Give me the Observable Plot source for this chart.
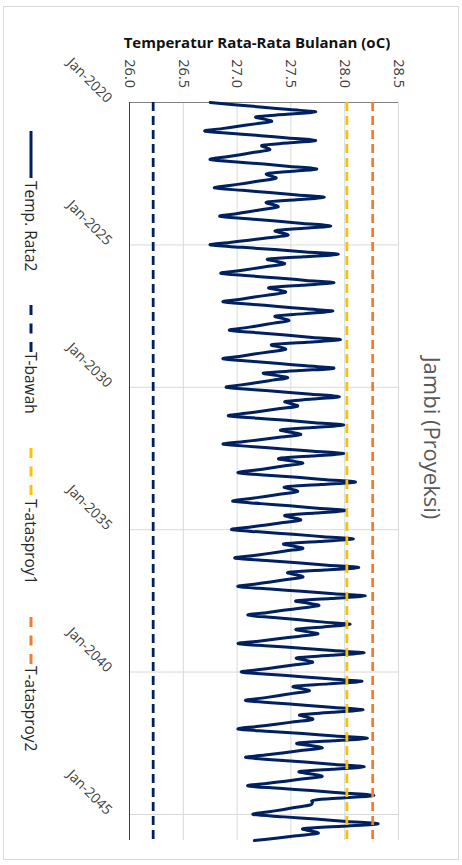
<!DOCTYPE html>
<html><head><meta charset="utf-8">
<script src="https://cdn.jsdelivr.net/npm/d3@7"></script>
<script src="https://cdn.jsdelivr.net/npm/@observablehq/plot@0.6"></script>
<style>
body{margin:0;background:#fff;font-family:"Open Sans",sans-serif;}
#wrap{position:relative;width:462px;height:865px;overflow:hidden;background:#fff;}
#frame{position:absolute;left:3px;top:6px;width:456px;height:854px;border:1px solid #d9d9d9;box-sizing:border-box;}
#chart{position:absolute;left:0;top:0;}
.rot{position:absolute;transform-origin:0 0;transform:rotate(90deg);white-space:nowrap;}
#axtitle{position:absolute;left:57px;top:32px;width:400px;text-align:center;font-weight:700;font-size:15px;line-height:20px;color:#111;}
</style></head><body>
<div id="wrap"><div id="frame"></div><div id="chart"></div></div>
<script>
// Monthly average temperature, Jan 2020 .. Dec 2045 (one row per year)
const tempRata2 = [
  26.75, 27.00, 27.24, 27.49, 27.73, 27.46, 27.18, 27.25, 27.32, 27.17, 27.01, 26.86, // 2020
  26.70, 26.96, 27.22, 27.47, 27.73, 27.49, 27.24, 27.27, 27.30, 27.16, 27.03, 26.89, // 2021
  26.75, 27.00, 27.25, 27.49, 27.74, 27.51, 27.28, 27.32, 27.36, 27.22, 27.08, 26.93, // 2022
  26.79, 27.05, 27.30, 27.56, 27.81, 27.55, 27.28, 27.33, 27.38, 27.25, 27.11, 26.98, // 2023
  26.84, 27.10, 27.36, 27.61, 27.87, 27.62, 27.36, 27.42, 27.47, 27.29, 27.11, 26.93, // 2024
  26.75, 27.05, 27.35, 27.64, 27.94, 27.62, 27.29, 27.37, 27.44, 27.29, 27.15, 27.00, // 2025
  26.85, 27.11, 27.38, 27.64, 27.90, 27.60, 27.30, 27.38, 27.45, 27.31, 27.16, 27.02, // 2026
  26.87, 27.13, 27.38, 27.64, 27.89, 27.63, 27.36, 27.42, 27.48, 27.34, 27.21, 27.07, // 2027
  26.93, 27.19, 27.45, 27.70, 27.96, 27.65, 27.33, 27.39, 27.45, 27.31, 27.16, 27.02, // 2028
  26.87, 27.13, 27.39, 27.64, 27.90, 27.58, 27.25, 27.36, 27.47, 27.33, 27.19, 27.04, // 2029
  26.90, 27.16, 27.43, 27.69, 27.95, 27.70, 27.45, 27.51, 27.56, 27.40, 27.24, 27.08, // 2030
  26.92, 27.19, 27.46, 27.72, 27.99, 27.70, 27.41, 27.50, 27.59, 27.41, 27.23, 27.05, // 2031
  26.87, 27.15, 27.43, 27.71, 27.99, 27.69, 27.39, 27.50, 27.61, 27.46, 27.31, 27.16, // 2032
  27.01, 27.28, 27.56, 27.83, 28.10, 27.78, 27.45, 27.51, 27.56, 27.41, 27.26, 27.11, // 2033
  26.96, 27.22, 27.49, 27.75, 28.01, 27.73, 27.45, 27.52, 27.59, 27.43, 27.27, 27.11, // 2034
  26.95, 27.23, 27.52, 27.80, 28.08, 27.76, 27.44, 27.53, 27.61, 27.45, 27.30, 27.14, // 2035
  26.98, 27.27, 27.56, 27.84, 28.13, 27.81, 27.48, 27.55, 27.61, 27.46, 27.31, 27.16, // 2036
  27.01, 27.31, 27.60, 27.90, 28.19, 27.87, 27.55, 27.66, 27.76, 27.60, 27.43, 27.27, // 2037
  27.10, 27.34, 27.58, 27.81, 28.05, 27.80, 27.55, 27.65, 27.75, 27.57, 27.38, 27.20, // 2038
  27.01, 27.30, 27.60, 27.89, 28.18, 27.87, 27.56, 27.63, 27.70, 27.54, 27.37, 27.21, // 2039
  27.04, 27.32, 27.60, 27.88, 28.16, 27.85, 27.53, 27.60, 27.67, 27.52, 27.38, 27.23, // 2040
  27.08, 27.35, 27.63, 27.90, 28.17, 27.88, 27.59, 27.65, 27.70, 27.53, 27.36, 27.18, // 2041
  27.01, 27.31, 27.61, 27.91, 28.21, 27.89, 27.56, 27.68, 27.79, 27.61, 27.44, 27.26, // 2042
  27.08, 27.36, 27.63, 27.91, 28.18, 27.88, 27.58, 27.69, 27.79, 27.62, 27.45, 27.27, // 2043
  27.10, 27.39, 27.69, 27.98, 28.27, 28.00, 27.72, 27.70, 27.68, 27.55, 27.42, 27.28, // 2044
  27.15, 27.44, 27.73, 28.02, 28.31, 27.97, 27.62, 27.69, 27.75, 27.55, 27.36, 27.16  // 2045
];
const startYear = 2020;
const tBawah = 26.22;
const tAtasproy1 = 28.02;
const tAtasproy2 = 28.26;
const xTicks = [26.0, 26.5, 27.0, 27.5, 28.0, 28.5];
const yearTicks = [2020, 2025, 2030, 2035, 2040, 2045];
const seriesNames = ["Temp. Rata2", "T-bawah", "T-atasproy1", "T-atasproy2"];
const seriesColors = ["#002060", "#002060", "#FFC000", "#ED7D31"];
const axisTitle = "Temperatur Rata-Rata Bulanan (oC)";
const chartTitle = "Jambi (Proyeksi)";

const series = tempRata2.map((v, i) => ({date: new Date(Date.UTC(startYear, i, 1)), temp: v}));
const tickDates = yearTicks.map(y => new Date(Date.UTC(y, 0, 1)));
const fmt = d3.utcFormat("%b-%Y");

const plot = Plot.plot({
  width: 462, height: 865,
  marginLeft: 129, marginRight: 64, marginTop: 102, marginBottom: 25,
  style: {fontFamily: '"Open Sans", sans-serif', background: "transparent", overflow: "visible"},
  x: {domain: [26, 28.5], axis: null},
  y: {type: "utc", domain: [series[0].date, series[series.length - 1].date], reverse: true, axis: null},
  marks: [
    Plot.gridX(xTicks.slice(1), {stroke: "#d9d9d9", strokeOpacity: 1, strokeWidth: 1}),
    Plot.gridY(tickDates.slice(1), {stroke: "#d9d9d9", strokeOpacity: 1, strokeWidth: 1}),
    Plot.ruleY([tickDates[0]], {stroke: "#808080", strokeWidth: 1}),
    Plot.ruleX([xTicks[0]], {stroke: "#404040", strokeWidth: 1}),
    Plot.line(series, {x: "temp", y: "date", curve: "cardinal", tension: 0, stroke: seriesColors[0], strokeWidth: 3}),
    Plot.ruleX([tBawah], {stroke: seriesColors[1], strokeWidth: 2.75, strokeDasharray: "9,5"}),
    Plot.ruleX([tAtasproy1], {stroke: seriesColors[2], strokeWidth: 2.75, strokeDasharray: "9,5"}),
    Plot.ruleX([tAtasproy2], {stroke: seriesColors[3], strokeWidth: 2.75, strokeDasharray: "9,5"}),
    Plot.text(xTicks, {x: d => d, text: d => d.toFixed(1), frameAnchor: "top", dy: -14.5, rotate: 90,
      textAnchor: "end", lineAnchor: "middle", fontSize: 14.5, fill: "#404040"}),
    Plot.text(tickDates, {y: d => d, text: d => fmt(d), frameAnchor: "left", dx: -20, dy: -2, rotate: 45,
      textAnchor: "end", lineAnchor: "middle", fontSize: 14, fill: "#404040"})
  ]
});
document.getElementById("chart").appendChild(plot);

const wrap = document.getElementById("wrap");
// axis title
const at = document.createElement("div");
at.id = "axtitle"; at.textContent = axisTitle; wrap.appendChild(at);

// chart title (rotated)
const ct = document.createElement("div");
ct.className = "rot";
Object.assign(ct.style, {left: (433 + 14) + "px", top: (438 - 150) + "px", width: "300px", textAlign: "center",
  lineHeight: "28px", fontSize: "22px", color: "#595959"});
ct.textContent = chartTitle; wrap.appendChild(ct);

// legend (rotated)
const swStart = [131, 305, 448, 617];
const txStart = [181, 352, 499, 666];
const legendX = 31;
seriesNames.forEach((name, i) => {
  const sw = document.createElementNS("http://www.w3.org/2000/svg", "svg");
  sw.setAttribute("width", 8); sw.setAttribute("height", 47);
  Object.assign(sw.style, {position: "absolute", left: (legendX - 4) + "px", top: swStart[i] + "px"});
  const ln = document.createElementNS("http://www.w3.org/2000/svg", "line");
  ln.setAttribute("x1", 4); ln.setAttribute("x2", 4); ln.setAttribute("y1", 0); ln.setAttribute("y2", 47);
  ln.setAttribute("stroke", seriesColors[i]); ln.setAttribute("stroke-width", 3);
  if (i > 0) ln.setAttribute("stroke-dasharray", "10,8.5");
  sw.appendChild(ln); wrap.appendChild(sw);
  const t = document.createElement("div");
  t.className = "rot";
  Object.assign(t.style, {left: (legendX + 10) + "px", top: txStart[i] + "px", lineHeight: "20px",
    fontSize: "15.5px", color: "#262626"});
  t.textContent = name; wrap.appendChild(t);
});
</script>
</body></html>
